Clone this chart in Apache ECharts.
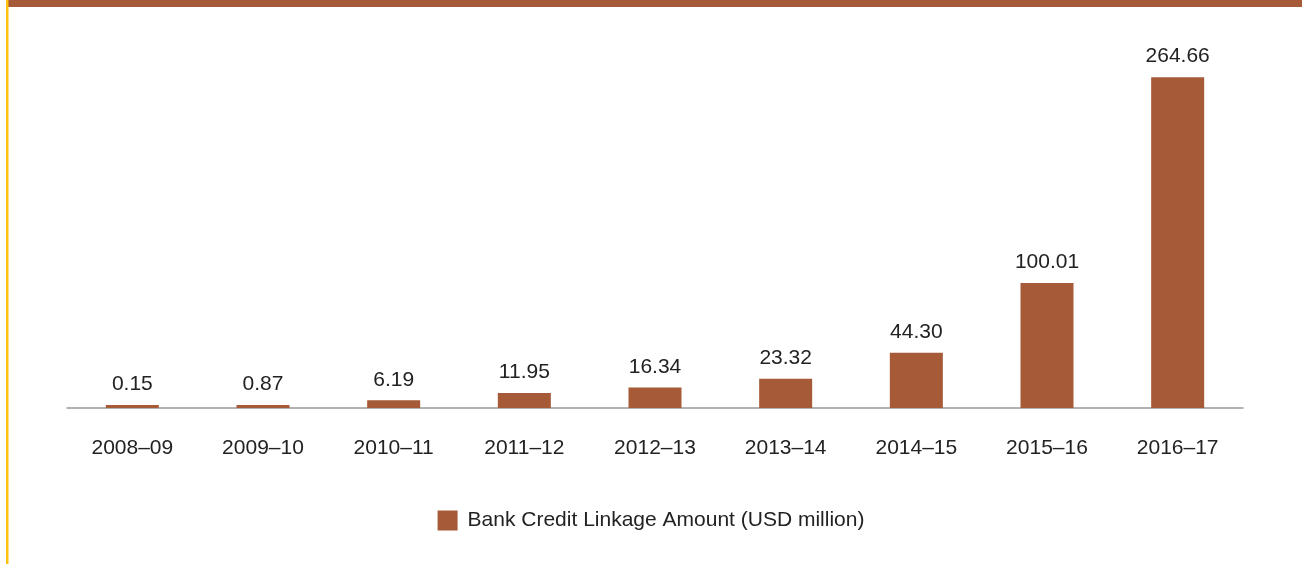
<!DOCTYPE html>
<html>
<head>
<meta charset="utf-8">
<script src="https://cdn.jsdelivr.net/npm/echarts@6/dist/echarts.min.js"></script>
<style>
  html, body { margin: 0; padding: 0; background: #fff; }
  #demo { width: 1302px; height: 564px; }
</style>
</head>
<body>
<div id="demo"></div>
<script>
var years = ["2008–09","2009–10","2010–11","2011–12","2012–13","2013–14","2014–15","2015–16","2016–17"];
var amounts = [0.15, 0.87, 6.19, 11.95, 16.34, 23.32, 44.30, 100.01, 264.66];
var seriesName = 'Bank Credit Linkage Amount (USD million)';

var barColor = '#a65a38';

var option = {
    animation: false,
    textStyle: { fontFamily: '"Liberation Sans", Arial, sans-serif' },
    graphic: [
        { type: 'rect', left: 8, top: 0, shape: { width: 1294, height: 7 }, style: { fill: barColor } },
        { type: 'rect', left: 6, top: 0, shape: { width: 2.5, height: 564 }, style: { fill: '#ffc20e' } }
    ],
    legend: {
        data: [seriesName],
        bottom: 28,
        left: 'center',
        itemWidth: 20,
        itemHeight: 20,
        itemGap: 10,
        icon: 'rect',
        textStyle: { fontSize: 21, color: '#222', padding: [0, 0, 0, 5] }
    },
    grid: { left: 67, right: 59, top: 8, bottom: 156 },
    xAxis: {
        type: 'category',
        data: years,
        axisLine: { lineStyle: { color: '#999', width: 1.5 } },
        axisTick: { show: false },
        axisLabel: { fontSize: 21, color: '#222', margin: 30 }
    },
    yAxis: {
        type: 'value',
        min: 0,
        max: 320,
        show: false,
        splitLine: { show: false }
    },
    series: [
        {
            name: seriesName,
            type: 'bar',
            data: amounts,
            barWidth: 53,
            barMinHeight: 3,
            itemStyle: { color: barColor },
            label: {
                show: true,
                position: 'top',
                distance: 10,
                fontSize: 21,
                color: '#222',
                formatter: function (p) { return p.value.toFixed(2); }
            }
        }
    ]
};
var myChart = echarts.init(document.getElementById('demo'));
myChart.setOption(option);
</script>
</body>
</html>
